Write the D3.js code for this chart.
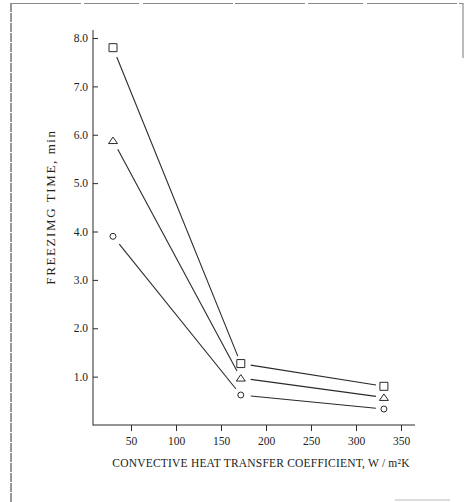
<!DOCTYPE html>
<html>
<head>
<meta charset="utf-8">
<script src="https://cdn.jsdelivr.net/npm/d3@7"></script>
<style>
  body { margin: 0; background: #fff; }
  text { font-family: "Liberation Serif", "DejaVu Serif", serif; fill: #222; }
</style>
</head>
<body>
<svg width="467" height="502"></svg>
<script>
var svg = d3.select('svg');

// data
var hValues = [30, 172, 331];
var squareTimes = [7.8, 1.27, 0.8];
var triangleTimes = [5.88, 0.97, 0.57];
var circleTimes = [3.9, 0.62, 0.33];
var xTicks = [50, 100, 150, 200, 250, 300, 350];
var yTicks = [1, 2, 3, 4, 5, 6, 7, 8];

var series = [
    {shape: "square", values: squareTimes},
    {shape: "triangle", values: triangleTimes},
    {shape: "circle", values: circleTimes}
];

var x = d3.scaleLinear().domain([0, 350]).range([86, 401]);
var y = d3.scaleLinear().domain([0, 8]).range([425, 38]);

var ink = "#2a2a2a";

// scanned page frame
svg.append("line").attr("x1", 11).attr("y1", 3).attr("x2", 11).attr("y2", 502)
    .attr("stroke", "#555").attr("stroke-width", 1.2).attr("stroke-dasharray", "9,1");
svg.append("line").attr("x1", 11).attr("y1", 3.5).attr("x2", 463).attr("y2", 3.5)
    .attr("stroke", "#888").attr("stroke-width", 1).attr("stroke-dasharray", "70,3,55,4,90,2");
svg.append("line").attr("x1", 463).attr("y1", 3).attr("x2", 463).attr("y2", 58)
    .attr("stroke", "#777").attr("stroke-width", 1);
svg.append("line").attr("x1", 395).attr("y1", 500).attr("x2", 450).attr("y2", 500)
    .attr("stroke", "#bbb").attr("stroke-width", 1);

// axes
var xAxis = svg.append("g")
    .attr("transform", "translate(0,425)")
    .call(d3.axisBottom(x).tickValues(xTicks).tickSize(6).tickPadding(6)
        .tickFormat(d3.format("d")));
xAxis.select(".domain").remove();
xAxis.selectAll("line").attr("stroke", ink);
xAxis.selectAll("text").style("font-size", "11.5px").attr("fill", "#222");

var yAxis = svg.append("g")
    .attr("transform", "translate(93,0)")
    .call(d3.axisLeft(y).tickValues(yTicks).tickSize(-5).tickPadding(5)
        .tickFormat(d3.format(".1f")));
yAxis.select(".domain").remove();
yAxis.selectAll("line").attr("stroke", ink);
yAxis.selectAll("text").style("font-size", "11.5px").attr("fill", "#222");

svg.append("line").attr("x1", 93).attr("y1", 30).attr("x2", 93).attr("y2", 425.5)
    .attr("stroke", ink).attr("stroke-width", 1);
svg.append("line").attr("x1", 93).attr("y1", 425).attr("x2", 415).attr("y2", 425)
    .attr("stroke", ink).attr("stroke-width", 1);

// axis titles
svg.append("text")
    .attr("transform", "translate(55,207) rotate(-90)")
    .attr("text-anchor", "middle")
    .style("font-size", "13px")
    .style("letter-spacing", "1.6px")
    .text("FREEZIMG TIME, min");

svg.append("text")
    .attr("x", 261).attr("y", 467)
    .attr("text-anchor", "middle")
    .style("font-size", "11.5px")
    .style("letter-spacing", "0.2px")
    .text("CONVECTIVE HEAT TRANSFER COEFFICIENT, W / m\u00B2K");

// segments between points, with gaps near markers as in the original
var gapStart = 10, gapEnd = 8;
series.forEach(function(s) {
    var pts = s.values.map(function(v, i) { return [x(hValues[i]), y(v)]; });
    for (var i = 0; i < pts.length - 1; i++) {
        var a = pts[i], b = pts[i + 1];
        var dx = b[0] - a[0], dy = b[1] - a[1];
        var len = Math.sqrt(dx * dx + dy * dy);
        svg.append("line")
            .attr("x1", a[0] + dx / len * gapStart)
            .attr("y1", a[1] + dy / len * gapStart)
            .attr("x2", b[0] - dx / len * gapEnd)
            .attr("y2", b[1] - dy / len * gapEnd)
            .attr("stroke", ink)
            .attr("stroke-width", 1.1);
    }

    var marks = svg.append("g").selectAll("path")
        .data(s.values)
        .enter()
        .append("path")
        .attr("transform", function(d, i) {
            return "translate(" + x(hValues[i]) + "," + y(d) + ")";
        })
        .attr("fill", "none")
        .attr("stroke", ink)
        .attr("stroke-width", 1);
    if (s.shape === "square") marks.attr("d", "M-4,-4H4V4H-4Z");
    if (s.shape === "triangle") marks.attr("d", "M0,-3.5L4.5,3L-4.5,3Z");
    if (s.shape === "circle") marks.attr("d", d3.symbol().type(d3.symbolCircle).size(28)());
});
</script>
</body>
</html>
